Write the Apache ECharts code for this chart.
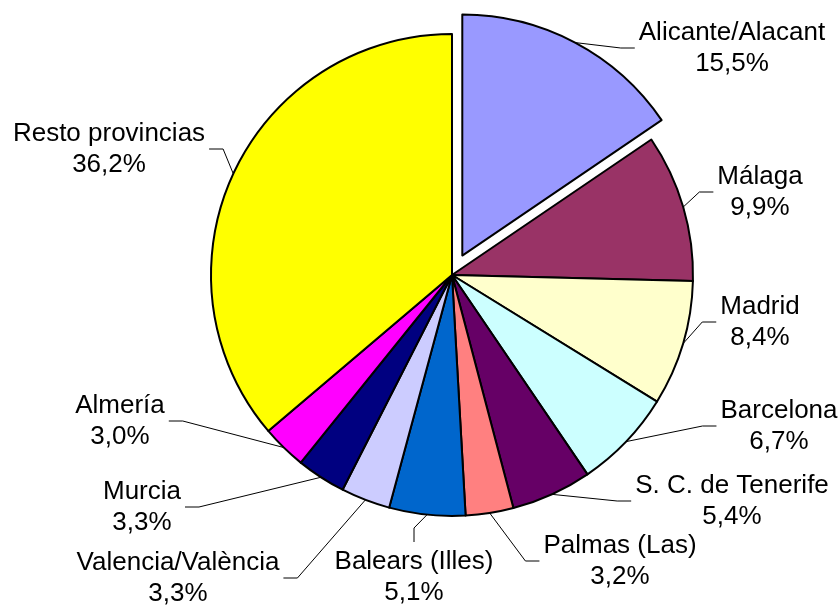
<!DOCTYPE html>
<html><head><meta charset="utf-8">
<script src="https://cdn.jsdelivr.net/npm/echarts@6/dist/echarts.min.js"></script>
<style>html,body{margin:0;padding:0;background:#fff}#c{width:840px;height:608px}</style>
</head><body><div id="c"></div>
<script>
const categories = ['Alicante/Alacant','Málaga','Madrid','Barcelona','S. C. de Tenerife','Palmas (Las)','Balears (Illes)','Valencia/València','Murcia','Almería','Resto provincias'];
const values = [15.5, 9.9, 8.4, 6.7, 5.4, 3.2, 5.1, 3.3, 3.3, 3.0, 36.2];
const colors = ['#9999FF','#993366','#FFFFCC','#CCFFFF','#660066','#FF8080','#0066CC','#CCCCFF','#000080','#FF00FF','#FFFF00'];
const explodedIndex = 0;

// label block centre and side where the leader line attaches
const labelPlacement = [
  [732, 48, 'left'], [760, 192, 'left'], [760, 322, 'left'], [779, 426, 'left'],
  [732, 501, 'left'], [620, 561, 'left'], [414, 577, 'top'], [178, 578, 'right'],
  [142, 507, 'right'], [120, 421, 'right'], [109, 149, 'right']
];

const CENTER = [452, 275], RADIUS = 241, EXPLODE = 22;
const fmt = v => v.toFixed(1).replace('.', ',') + '%';

// offset of the exploded slice along its mid-angle
const total = values.reduce((a, b) => a + b, 0);
const before = values.slice(0, explodedIndex).reduce((a, b) => a + b, 0);
const midAng = (before + values[explodedIndex] / 2) / total * 2 * Math.PI;
const ex = [EXPLODE * Math.sin(midAng), -EXPLODE * Math.cos(midAng)];

const labelFont = {
  fontFamily: 'Liberation Sans, Arial, sans-serif',
  fontSize: 26, lineHeight: 31, color: '#000'
};

const chart = echarts.init(document.getElementById('c'), null, {renderer: 'canvas'});
chart.setOption({
  animation: false,
  backgroundColor: '#ffffff',
  series: [{
    type: 'pie',
    center: CENTER,
    radius: RADIUS,
    startAngle: 90,
    clockwise: true,
    avoidLabelOverlap: false,
    emphasis: {disabled: true},
    itemStyle: {borderColor: '#000', borderWidth: 2},
    label: Object.assign({
      show: true,
      position: 'outside',
      formatter: p => p.name + '\n' + fmt(p.value)
    }, labelFont),
    labelLine: {show: true, smooth: false, lineStyle: {color: '#000', width: 1}},
    labelLayout: function (p) {
      const pl = labelPlacement[p.dataIndex];
      const w = p.labelRect.width, h = p.labelRect.height;
      const cx = pl[0], cy = pl[1];
      let start = p.labelLinePoints ? p.labelLinePoints[0].slice() : [cx, cy];
      if (p.dataIndex === explodedIndex) { start = [start[0] + ex[0], start[1] + ex[1]]; }
      const gap = 4, seg = 14;
      let end, bend;
      if (pl[2] === 'left') { end = [cx - w / 2 - gap, cy]; bend = [end[0] - seg, cy]; }
      else if (pl[2] === 'right') { end = [cx + w / 2 + gap, cy]; bend = [end[0] + seg, cy]; }
      else { end = [cx, cy - h / 2 - gap]; bend = [cx, end[1] - seg]; }
      return {x: cx, y: cy, align: 'center', verticalAlign: 'middle', labelLinePoints: [start, bend, end]};
    },
    data: categories.map((n, i) => ({
      name: n, value: values[i],
      itemStyle: i === explodedIndex ? {color: 'rgba(0,0,0,0)', borderWidth: 0} : {color: colors[i]}
    }))
  }, {
    // exploded slice drawn from a shifted centre
    type: 'pie',
    center: [CENTER[0] + ex[0], CENTER[1] + ex[1]],
    radius: RADIUS,
    startAngle: 90,
    clockwise: true,
    silent: true,
    emphasis: {disabled: true},
    label: {show: false},
    labelLine: {show: false},
    data: categories.map((n, i) => ({
      name: n, value: values[i],
      itemStyle: i === explodedIndex
        ? {color: colors[i], borderColor: '#000', borderWidth: 2}
        : {color: 'rgba(0,0,0,0)', borderWidth: 0}
    }))
  }]
});
</script></body></html>
